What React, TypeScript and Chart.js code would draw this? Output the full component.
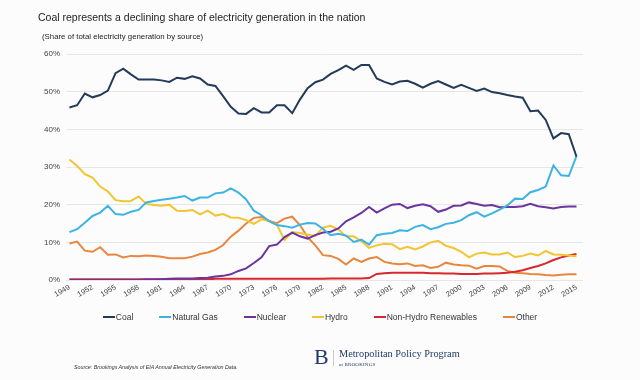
import React, { useEffect, useRef } from "react";
import { Chart, registerables } from "chart.js";

Chart.register(...registerables);

const years = [
  1949, 1950, 1951, 1952, 1953, 1954, 1955, 1956, 1957, 1958,
  1959, 1960, 1961, 1962, 1963, 1964, 1965, 1966, 1967, 1968,
  1969, 1970, 1971, 1972, 1973, 1974, 1975, 1976, 1977, 1978,
  1979, 1980, 1981, 1982, 1983, 1984, 1985, 1986, 1987, 1988,
  1989, 1990, 1991, 1992, 1993, 1994, 1995, 1996, 1997, 1998,
  1999, 2000, 2001, 2002, 2003, 2004, 2005, 2006, 2007, 2008,
  2009, 2010, 2011, 2012, 2013, 2014, 2015,
];

const tickYears = [
  1949, 1952, 1955, 1958, 1961, 1964, 1967, 1970, 1973, 1976, 1979, 1982,
  1985, 1988, 1991, 1994, 1997, 2000, 2003, 2006, 2009, 2012, 2015,
];

const coal = [
  45.8, 46.4, 49.5, 48.5, 49.1, 50.3, 54.9, 56.1, 54.6, 53.2,
  53.2, 53.2, 53.0, 52.6, 53.7, 53.4, 54.1, 53.5, 51.9, 51.5,
  48.8, 46.0, 44.2, 44.1, 45.6, 44.5, 44.5, 46.4, 46.4, 44.3,
  47.9, 50.9, 52.5, 53.2, 54.7, 55.7, 56.9, 55.8, 57.1, 57.1,
  53.5, 52.6, 51.9, 52.7, 52.9, 52.1, 51.1, 52.1, 52.8, 51.9,
  51.0, 51.8, 51.0, 50.2, 50.8, 49.9, 49.6, 49.1, 48.7, 48.4,
  44.8, 45.0, 42.5, 37.6, 39.0, 38.7, 32.8,
];

const naturalGas = [
  12.7, 13.5, 15.2, 17.0, 17.9, 19.7, 17.5, 17.3, 18.1, 18.6,
  20.6, 21.0, 21.3, 21.6, 21.9, 22.3, 21.1, 21.9, 21.9, 23.0,
  23.2, 24.3, 23.2, 21.4, 18.4, 17.2, 15.6, 14.6, 14.3, 13.9,
  14.7, 15.1, 15.0, 13.6, 11.9, 12.3, 11.8, 10.1, 10.7, 9.4,
  11.9, 12.3, 12.5, 13.2, 13.0, 14.1, 14.6, 13.5, 14.0, 14.9,
  15.2, 15.9, 17.2, 18.0, 16.8, 17.7, 18.7, 19.8, 21.6, 21.5,
  23.3, 23.9, 24.8, 30.4, 27.8, 27.6, 32.9,
];

const nuclear = [
  0, 0, 0, 0, 0, 0, 0, 0, 0, 0.02,
  0.1, 0.1, 0.2, 0.3, 0.4, 0.4, 0.4, 0.5, 0.6, 0.9,
  1.1, 1.5, 2.4, 3.1, 4.5, 6.0, 9.0, 9.4, 11.4, 12.6,
  11.6, 11.0, 11.9, 12.6, 12.8, 13.7, 15.6, 16.6, 17.8, 19.4,
  17.9, 19.0, 20.0, 20.2, 19.1, 19.7, 20.1, 19.6, 18.1, 18.7,
  19.7, 19.8, 20.6, 20.2, 19.7, 19.9, 19.3, 19.4, 19.4, 19.6,
  20.2, 19.6, 19.3, 19.0, 19.4, 19.5, 19.5,
];

const hydro = [
  32.0, 30.3, 28.1, 27.2, 24.8, 23.5, 21.2, 20.9, 21.0, 22.2,
  20.2, 19.9, 19.7, 20.0, 18.4, 18.3, 18.6, 17.4, 18.4, 17.1,
  17.5, 16.6, 16.5, 15.9, 14.9, 16.1, 15.6, 14.7, 10.6, 12.7,
  12.5, 12.1, 11.7, 13.9, 14.4, 13.4, 11.6, 11.6, 10.3, 8.5,
  9.2, 9.6, 9.5, 8.2, 8.8, 8.1, 8.9, 10.0, 10.4, 9.1,
  8.5, 7.5, 6.0, 7.0, 7.3, 6.8, 6.8, 7.3, 6.1, 6.4,
  7.0, 6.5, 7.7, 6.8, 6.7, 6.5, 6.3,
];

const renewables = [
  0.2, 0.2, 0.2, 0.2, 0.2, 0.2, 0.2, 0.2, 0.2, 0.2,
  0.2, 0.2, 0.2, 0.2, 0.2, 0.2, 0.2, 0.2, 0.2, 0.3,
  0.3, 0.3, 0.3, 0.3, 0.3, 0.3, 0.3, 0.3, 0.3, 0.3,
  0.3, 0.3, 0.3, 0.3, 0.4, 0.4, 0.4, 0.4, 0.4, 0.5,
  1.6, 1.8, 1.9, 1.9, 1.9, 1.9, 1.9, 1.8, 1.8, 1.7,
  1.7, 1.6, 1.6, 1.6, 1.7, 1.7, 1.8, 1.9, 2.2, 2.6,
  3.2, 3.7, 4.4, 5.3, 6.0, 6.5, 6.9,
];

const other = [
  9.7, 10.2, 7.8, 7.5, 8.7, 6.7, 6.8, 6.0, 6.4, 6.3,
  6.5, 6.4, 6.2, 5.8, 5.8, 5.8, 6.2, 6.9, 7.3, 8.0,
  9.3, 11.5, 13.1, 15.0, 16.5, 16.7, 15.7, 15.1, 16.3, 16.8,
  14.6, 11.4, 9.2, 6.6, 6.4, 5.6, 4.1, 5.7, 4.8, 5.7,
  6.1, 4.8, 4.4, 4.2, 4.4, 3.7, 3.9, 3.2, 3.5, 4.6,
  4.1, 3.9, 3.8, 3.0, 3.7, 3.7, 3.6, 2.4, 1.9, 1.8,
  1.6, 1.5, 1.3, 1.2, 1.4, 1.5, 1.5,
];

const seriesNames = ["Coal", "Natural Gas", "Nuclear", "Hydro", "Non-Hydro Renewables", "Other"];
const seriesValues = [coal, naturalGas, nuclear, hydro, renewables, other];
const seriesColors = ["#233a58", "#3cb3e2", "#6b349f", "#f2c530", "#d6282e", "#e8863f"];

const SANS = "'Liberation Sans', Arial, Helvetica, sans-serif";
const SERIF = "'Liberation Serif', 'Times New Roman', serif";

export default function App() {
  const ref = useRef<HTMLCanvasElement>(null);

  useEffect(() => {
    if (!ref.current) return;
    const chart = new Chart(ref.current, {
      type: "line",
      data: {
        datasets: seriesNames.map((name, k) => ({
          label: name,
          data: seriesValues[k].map((v, i) => ({ x: years[i], y: v })),
          borderColor: seriesColors[k],
          backgroundColor: seriesColors[k],
          borderWidth: 2,
          pointRadius: 0,
          tension: 0,
          fill: false,
        })),
      },
      options: {
        animation: false,
        responsive: false,
        maintainAspectRatio: false,
        layout: { padding: { top: 54, left: 44, right: 57, bottom: 70 } },
        plugins: {
          legend: { display: false },
          tooltip: { enabled: false },
        },
        scales: {
          x: {
            type: "linear",
            min: 1948.55,
            max: 2015.85,
            grid: { display: false, drawTicks: false },
            border: { display: false },
            afterBuildTicks: (s: any) => {
              s.ticks = tickYears.map((v) => ({ value: v }));
            },
            afterFit: (s: any) => {
              s.height = 30;
            },
            ticks: {
              autoSkip: false,
              minRotation: 30,
              maxRotation: 30,
              padding: 3,
              color: "#444",
              font: { family: SANS, size: 7.5 },
              callback: (v: any) => String(v),
            },
          },
          y: {
            min: 0,
            max: 60,
            afterFit: (s: any) => {
              s.width = 22;
            },
            grid: { color: "#e6e6e6", drawTicks: false, lineWidth: 1 },
            border: { display: false },
            ticks: {
              stepSize: 10,
              padding: 6,
              color: "#444",
              font: { family: SANS, size: 8 },
              callback: (v: any) => v + "%",
            },
          },
        },
      },
    });
    return () => chart.destroy();
  }, []);

  return (
    <div
      style={{
        position: "absolute",
        left: 0,
        top: 0,
        width: 640,
        height: 380,
        background: "#fcfcfc",
        overflow: "hidden",
        fontFamily: SANS,
      }}
    >
      <canvas ref={ref} width={640} height={380} style={{ display: "block", position: "absolute", left: 0, top: 0 }} />
      <div style={{ position: "absolute", left: 38, top: 12, fontSize: 10.5, lineHeight: 1, color: "#222", whiteSpace: "nowrap" }}>
        Coal represents a declining share of electricity generation in the nation
      </div>
      <div style={{ position: "absolute", left: 42, top: 33, fontSize: 7.8, lineHeight: 1, color: "#222", whiteSpace: "nowrap" }}>
        (Share of total electricity generation by source)
      </div>
      <div
        style={{
          position: "absolute",
          left: 0,
          top: 311,
          width: 640,
          height: 12,
          display: "flex",
          justifyContent: "center",
          alignItems: "center",
          gap: 26,
          fontSize: 8.5,
          color: "#333",
          whiteSpace: "nowrap",
        }}
      >
        {seriesNames.map((name, k) => (
          <div key={name} style={{ display: "flex", alignItems: "center" }}>
            <span style={{ display: "inline-block", width: 12, height: 2, background: seriesColors[k] }} />
            <span style={{ marginLeft: 1 }}>{name}</span>
          </div>
        ))}
      </div>
      <div style={{ position: "absolute", left: 74, top: 365, fontSize: 5.3, lineHeight: 1, fontStyle: "italic", color: "#333", whiteSpace: "nowrap" }}>
        Source: Brookings Analysis of EIA Annual Electricity Generation Data.
      </div>
      <div style={{ position: "absolute", left: 314, top: 346, fontFamily: SERIF, fontSize: 22, lineHeight: 1, color: "#1d3a6a" }}>B</div>
      <div style={{ position: "absolute", left: 333, top: 350, width: 1, height: 16, background: "#c8c8c8" }} />
      <div style={{ position: "absolute", left: 339, top: 349, fontFamily: SERIF, fontSize: 10.3, lineHeight: 1, color: "#1f3a66", whiteSpace: "nowrap" }}>
        Metropolitan Policy Program
      </div>
      <div style={{ position: "absolute", left: 339, top: 362, fontFamily: SERIF, fontSize: 5, lineHeight: 1, color: "#1f3a66", whiteSpace: "nowrap", letterSpacing: 0.2 }}>
        at BROOKINGS
      </div>
    </div>
  );
}
